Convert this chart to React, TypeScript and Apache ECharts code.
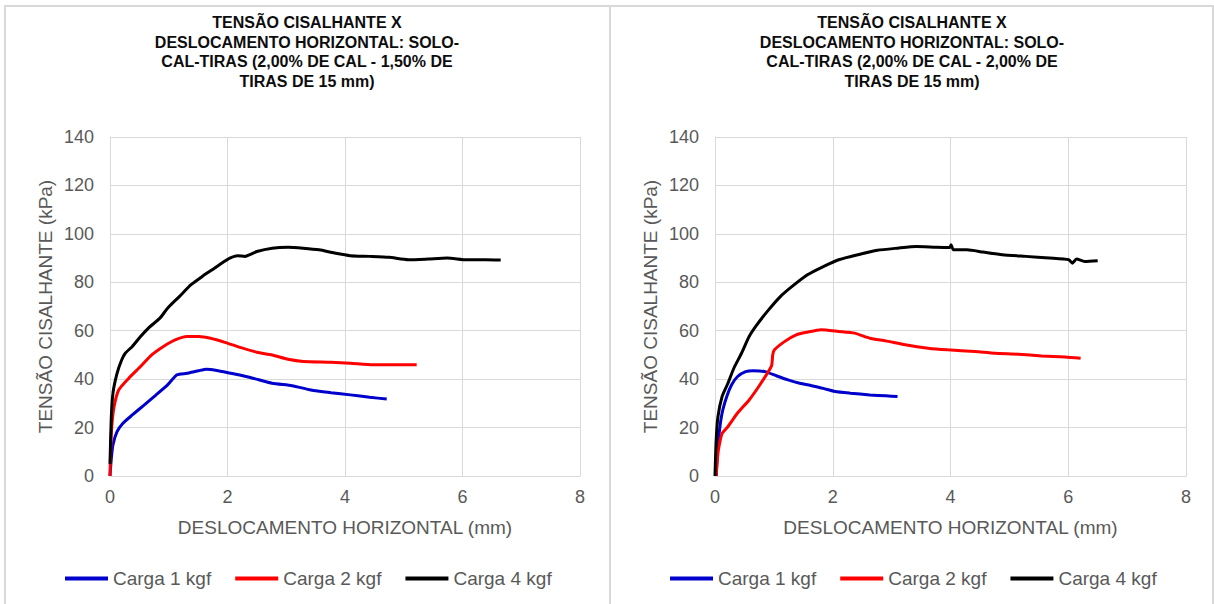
import React, { useEffect, useRef } from "react";
import * as echarts from "echarts";

type P = [number, number];

const seriesNames = ["Carga 1 kgf", "Carga 2 kgf", "Carga 4 kgf"];
const seriesColors = ["#0000CC", "#FF0000", "#000000"];

const titleLeft = "TENSÃO CISALHANTE X\nDESLOCAMENTO HORIZONTAL: SOLO-\nCAL-TIRAS (2,00% DE CAL - 1,50% DE\nTIRAS DE 15 mm)";
const titleRight = "TENSÃO CISALHANTE X\nDESLOCAMENTO HORIZONTAL: SOLO-\nCAL-TIRAS (2,00% DE CAL - 2,00% DE\nTIRAS DE 15 mm)";
const xName = "DESLOCAMENTO HORIZONTAL (mm)";
const yName = "TENSÃO CISALHANTE (kPa)";

// Left chart: 2,00% cal - 1,50% tiras
const left1kgf: P[] = [
  [0, 0], [0.02, 6.6], [0.05, 12.8], [0.12, 18.3], [0.22, 21.8], [0.38, 25.2], [0.58, 29.3],
  [0.78, 33.4], [0.98, 37.6], [1.14, 41.8], [1.31, 42.4], [1.51, 43.5], [1.64, 44.1], [1.84, 43.5],
  [2.1, 42.2], [2.43, 40.4], [2.76, 38.3], [3.1, 37.3], [3.42, 35.5], [3.76, 34.4], [4.09, 33.5],
  [4.42, 32.5], [4.71, 31.8],
];
const left2kgf: P[] = [
  [0, 0], [0.01, 9.4], [0.03, 20.4], [0.07, 28.7], [0.15, 35.6], [0.32, 40.4], [0.52, 45.2],
  [0.71, 50], [0.91, 53.5], [1.11, 56.2], [1.31, 57.6], [1.51, 57.6], [1.71, 56.9], [1.97, 55.1],
  [2.23, 53], [2.5, 51.1], [2.76, 50], [3.03, 48.2], [3.29, 47.3], [3.76, 47], [4.09, 46.6],
  [4.48, 45.9], [4.88, 45.9], [5.22, 45.9],
];
const left4kgf: P[] = [
  [0, 5], [0.02, 23.1], [0.05, 34.2], [0.12, 42.4], [0.2, 48], [0.26, 50.7], [0.38, 53.5],
  [0.52, 57.6], [0.65, 61], [0.85, 65.2], [0.98, 69.3], [1.18, 74.1], [1.38, 79], [1.57, 82.4],
  [1.74, 85.2], [1.9, 87.9], [2.04, 90], [2.17, 91], [2.3, 90.7], [2.5, 92.7], [2.76, 94.1],
  [3.03, 94.5], [3.29, 94.1], [3.56, 93.4], [3.82, 92.1], [4.09, 91], [4.42, 90.7], [4.75, 90.3],
  [5.08, 89.3], [5.41, 89.6], [5.74, 90], [6.07, 89.3], [6.4, 89.3], [6.65, 89.2],
];

// Right chart: 2,00% cal - 2,00% tiras
const right1kgf: P[] = [
  [0.02, 0], [0.04, 9.4], [0.07, 17.6], [0.12, 25.9], [0.2, 32.8], [0.28, 37.6], [0.38, 41],
  [0.52, 43.1], [0.65, 43.5], [0.85, 43.1], [1.05, 41.3], [1.24, 39.7], [1.44, 38.3], [1.64, 37.3],
  [1.84, 36.2], [2.04, 34.9], [2.3, 34.2], [2.63, 33.5], [2.9, 33.1], [3.1, 32.8],
];
const right2kgf: P[] = [
  [0.02, 0], [0.05, 9.4], [0.09, 14.9], [0.12, 17.6], [0.22, 20.4], [0.38, 25.9], [0.58, 31.4],
  [0.78, 38.3], [0.96, 45.5], [0.98, 50], [1.01, 52.1], [1.18, 55.5], [1.38, 58.3], [1.57, 59.4],
  [1.8, 60.4], [2.1, 59.7], [2.37, 59], [2.63, 56.9], [2.9, 55.8], [3.23, 54.2], [3.62, 52.8],
  [3.95, 52.1], [4.42, 51.4], [4.75, 50.7], [5.15, 50.3], [5.55, 49.6], [5.95, 49.1], [6.21, 48.6],
];
const right4kgf: P[] = [
  [0, 0], [0.02, 14.9], [0.05, 24.5], [0.12, 32.8], [0.22, 38.3], [0.32, 44.5], [0.45, 50.7],
  [0.58, 57.6], [0.71, 62.4], [0.91, 68.6], [1.11, 74.1], [1.31, 78.3], [1.57, 83.1], [1.84, 86.5],
  [2.1, 89.3], [2.43, 91.4], [2.76, 93.2], [3.1, 94.1], [3.42, 94.8], [3.76, 94.5], [3.99, 94.4],
  [4.01, 95.5], [4.05, 93.4], [4.28, 93.4], [4.55, 92.5], [4.88, 91.4], [5.28, 90.7], [5.68, 90],
  [6.01, 89.3], [6.07, 87.9], [6.14, 89.6], [6.28, 88.6], [6.5, 88.9],
];

const leftData = [left1kgf, left2kgf, left4kgf];
const rightData = [right1kgf, right2kgf, right4kgf];

const FONT = "'Liberation Sans', Arial, sans-serif";
const GRID_COLOR = "#d9d9d9";
const TEXT_COLOR = "#595959";

function xAxisFor(gridIndex: number) {
  return {
    type: "value",
    gridIndex,
    min: 0,
    max: 8,
    interval: 2,
    name: xName,
    nameLocation: "middle",
    nameGap: 42,
    nameTextStyle: { color: TEXT_COLOR, fontSize: 19, fontFamily: FONT },
    axisLine: { show: true, lineStyle: { color: GRID_COLOR, width: 1 } },
    axisTick: { show: false },
    axisLabel: { color: TEXT_COLOR, fontSize: 18, fontFamily: FONT, margin: 12 },
    splitLine: { show: true, lineStyle: { color: GRID_COLOR, width: 1 } },
  };
}

function yAxisFor(gridIndex: number) {
  return {
    type: "value",
    gridIndex,
    min: 0,
    max: 140,
    interval: 20,
    name: yName,
    nameLocation: "middle",
    nameGap: 55,
    nameTextStyle: { color: TEXT_COLOR, fontSize: 19, fontFamily: FONT },
    axisLine: { show: true, lineStyle: { color: GRID_COLOR, width: 1 } },
    axisTick: { show: false },
    axisLabel: { color: TEXT_COLOR, fontSize: 18, fontFamily: FONT, margin: 16 },
    splitLine: { show: true, lineStyle: { color: GRID_COLOR, width: 1 } },
  };
}

function legendAt(left: number) {
  return {
    left,
    top: 569,
    padding: 0,
    itemWidth: 43,
    itemHeight: 4,
    itemGap: 24,
    icon: "rect",
    data: seriesNames,
    textStyle: { color: TEXT_COLOR, fontSize: 19, fontFamily: FONT },
  };
}

export default function App() {
  const ref = useRef<HTMLDivElement>(null);

  useEffect(() => {
    if (!ref.current) return;
    const chart = echarts.init(ref.current, null, { renderer: "svg" });

    const series: any[] = [];
    [leftData, rightData].forEach((group, gi) => {
      group.forEach((data, i) => {
        series.push({
          type: "line",
          name: seriesNames[i],
          xAxisIndex: gi,
          yAxisIndex: gi,
          data,
          showSymbol: false,
          symbol: "none",
          smooth: 0.2,
          lineStyle: { color: seriesColors[i], width: 3 },
          itemStyle: { color: seriesColors[i] },
          z: 3 + i,
        });
      });
    });

    chart.setOption({
      animation: false,
      backgroundColor: "#ffffff",
      title: [
        {
          text: titleLeft,
          left: 307,
          top: 13,
          textAlign: "center",
          padding: 0,
          textStyle: { fontSize: 16, fontWeight: "bold", color: "#0d0d0d", fontFamily: FONT, lineHeight: 19.5 },
        },
        {
          text: titleRight,
          left: 912,
          top: 13,
          textAlign: "center",
          padding: 0,
          textStyle: { fontSize: 16, fontWeight: "bold", color: "#0d0d0d", fontFamily: FONT, lineHeight: 19.5 },
        },
      ],
      legend: [legendAt(65), legendAt(670)],
      grid: [
        { left: 110, top: 137, width: 470, height: 339, containLabel: false },
        { left: 715, top: 137, width: 471, height: 339, containLabel: false },
      ],
      xAxis: [xAxisFor(0), xAxisFor(1)],
      yAxis: [yAxisFor(0), yAxisFor(1)],
      series,
      graphic: [
        {
          type: "rect",
          shape: { x: 5, y: 6, width: 605, height: 640 },
          style: { fill: "none", stroke: GRID_COLOR, lineWidth: 2 },
          silent: true,
        },
        {
          type: "rect",
          shape: { x: 610, y: 6, width: 603, height: 640 },
          style: { fill: "none", stroke: GRID_COLOR, lineWidth: 2 },
          silent: true,
        },
      ],
    });

    return () => chart.dispose();
  }, []);

  return (
    <div
      ref={ref}
      style={{ position: "absolute", left: 0, top: 0, width: 1214, height: 604, background: "#fff" }}
    />
  );
}
